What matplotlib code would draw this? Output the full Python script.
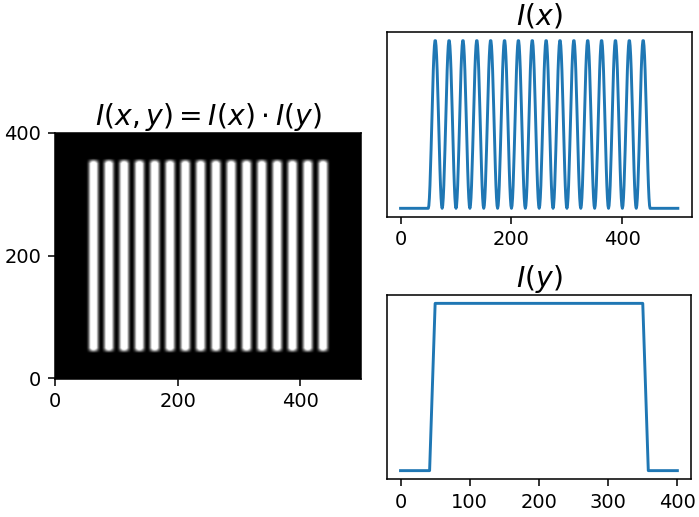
import numpy as np
import matplotlib
matplotlib.use("Agg")
import matplotlib.pyplot as plt

# image size (pixels)
img_width = 500
img_height = 400

# I(x): fringe region and number of bright fringes
x_edges = [50, 450]
n_fringes = 16

# I(y): breakpoints and values of the trapezoid profile
y_points = [0, 42, 50, 350, 358, 400]
y_values = [0, 0, 1, 1, 0, 0]

x = np.arange(img_width + 1)
inside = (x >= x_edges[0]) & (x <= x_edges[1])
period = (x_edges[1] - x_edges[0]) / n_fringes
Ix = np.where(inside, np.sin(np.pi * (x - x_edges[0]) / period) ** 2, 0.0)

yy = np.arange(img_height)
Iy = np.interp(yy, y_points, y_values)
Ixy = np.outer(Iy, Ix[:img_width])

fig = plt.figure(figsize=(699 / 140, 517 / 140), dpi=140)

# pixel boxes converted to figure fractions
def box(left, top, right, bottom):
    W, H = 699.0, 517.0
    return [left / W, 1 - bottom / H, (right - left) / W, (bottom - top) / H]

ax_img = fig.add_axes(box(55, 132.7, 361, 378.7))
ax_img.imshow(Ixy, cmap="gray", origin="lower", aspect="auto",
              vmin=0, vmax=0.7, interpolation="bilinear")
ax_img.set_xticks([0, 200, 400])
ax_img.set_yticks([0, 200, 400])
ax_img.set_title(r"$I(x,y) = I(x)\cdot I(y)$", fontsize=14.5, pad=4)

ax_x = fig.add_axes(box(386.7, 32.3, 691.7, 216.7))
ax_x.plot(x, Ix)
ax_x.set_yticks([])
ax_x.set_xticks([0, 200, 400])
ax_x.set_title(r"$I(x)$", fontsize=14.5, pad=4)

ax_y = fig.add_axes(box(386.7, 295, 691.2, 479))
ax_y.plot(y_points, y_values)
ax_y.set_yticks([])
ax_y.set_xticks([0, 100, 200, 300, 400])
ax_y.set_title(r"$I(y)$", fontsize=14.5, pad=4)

fig.savefig("out.png", dpi=140)
